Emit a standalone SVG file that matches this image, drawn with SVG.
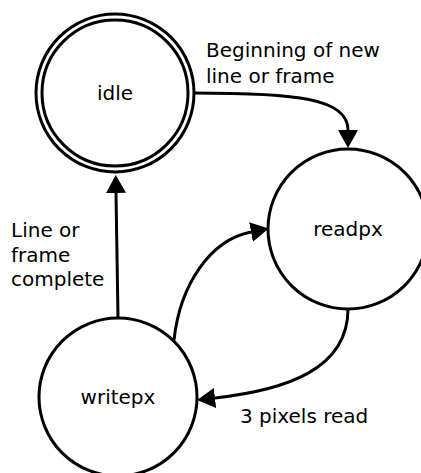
<svg xmlns="http://www.w3.org/2000/svg" width="421" height="473" viewBox="0 0 421 473">
<style>
.node{fill:#fff;stroke:#000;stroke-width:3}
.edge{fill:none;stroke:#000;stroke-width:3;marker-end:url(#arr)}
text{font-family:"DejaVu Sans",sans-serif;font-size:20px;fill:#000}
.c{text-anchor:middle;dominant-baseline:central}
</style>
<defs>
<marker id="arr" viewBox="0 0 18 20" refX="0" refY="10" markerWidth="18" markerHeight="20" markerUnits="userSpaceOnUse" orient="auto">
<path d="M0,0 L18,10 L0,20 z" fill="#000"/>
</marker>
</defs>
<g id="idle">
<circle class="node" cx="115" cy="93" r="79"/>
<circle class="node" cx="115" cy="93" r="73"/>
<text class="c" x="115" y="93">idle</text>
</g>
<g id="readpx">
<circle class="node" cx="348" cy="229" r="80"/>
<text class="c" x="348" y="229">readpx</text>
</g>
<g id="writepx">
<circle class="node" cx="118" cy="397" r="79"/>
<text class="c" x="118" y="397">writepx</text>
</g>
<g id="connectors">
<path class="edge" d="M194,93 C295,93 348,98 348,130"/>
<path class="edge" d="M118,318 L116,193"/>
<path class="edge" d="M174,340 C180,285 210,240 251,232"/>
<path class="edge" d="M348,309 C348,370 285,390 215,398"/>
</g>
<g id="labels">
<text x="206" y="57">Beginning of new</text>
<text x="206" y="83">line or frame</text>
<text x="11" y="237">Line or</text>
<text x="11" y="262">frame</text>
<text x="11" y="286">complete</text>
<text x="240" y="423">3 pixels read</text>
</g>
</svg>
